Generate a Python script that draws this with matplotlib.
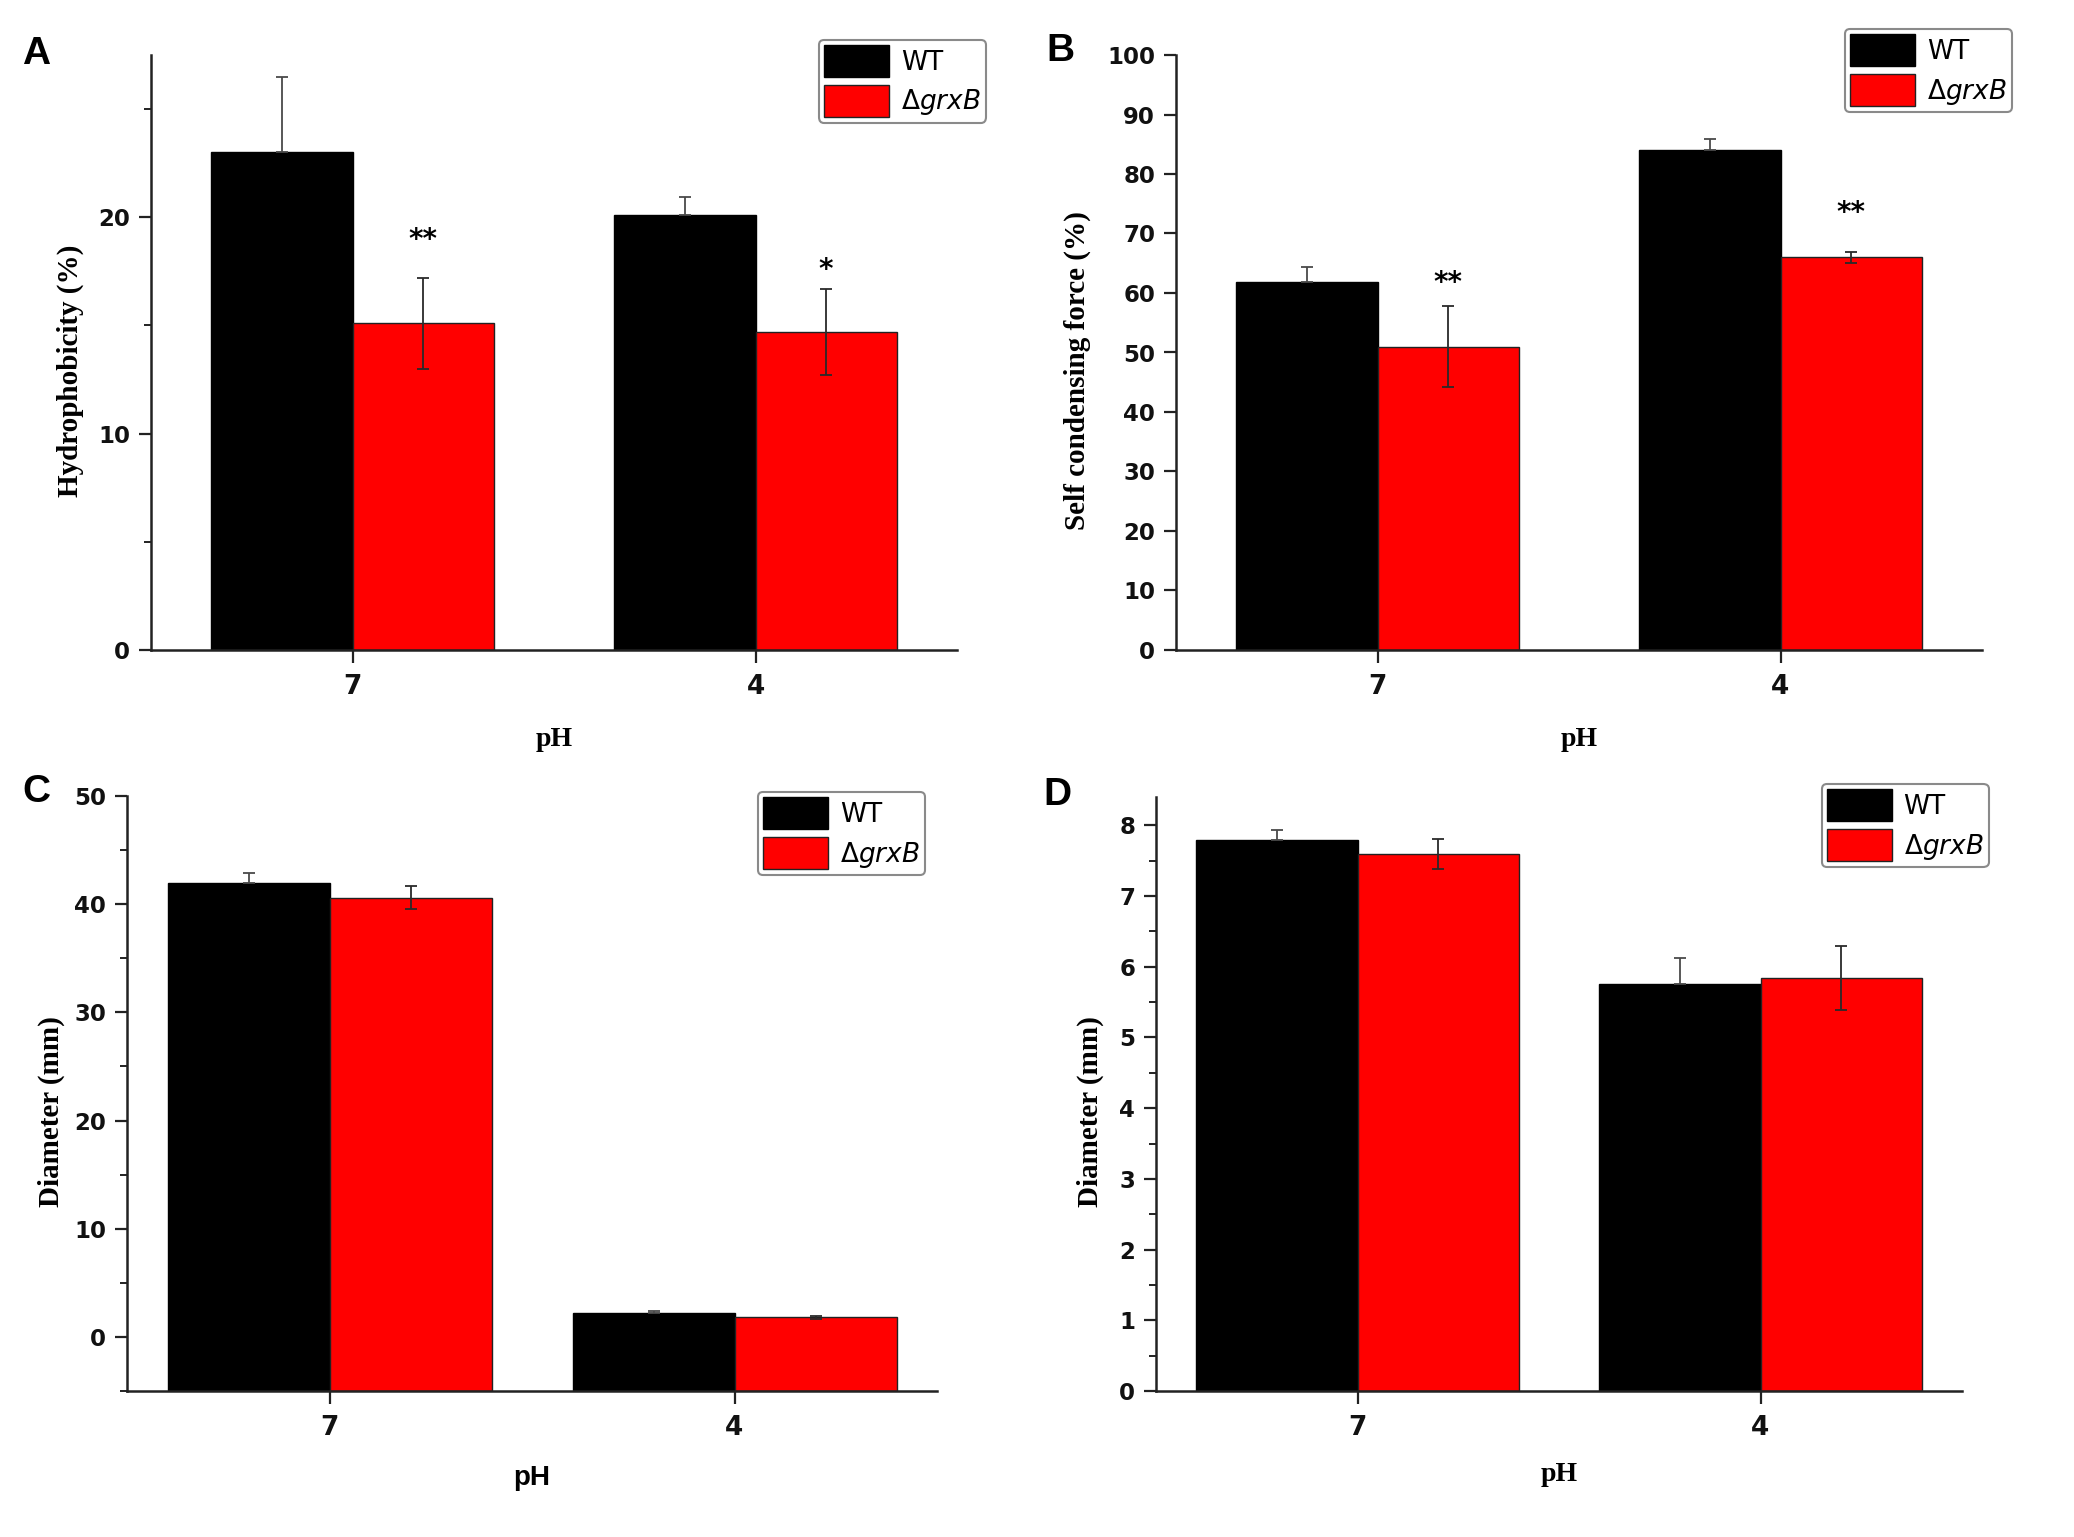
import numpy as np
import matplotlib
matplotlib.use("Agg")
import matplotlib.pyplot as plt
from matplotlib.ticker import MultipleLocator

plt.rcParams['mathtext.fontset'] = 'custom'
plt.rcParams['mathtext.rm'] = 'DejaVu Sans'
plt.rcParams['mathtext.it'] = 'DejaVu Sans:italic'

# data
categories = ['7', '4']

a_wt = [23.0, 20.1]
a_wt_err = [3.5, 0.85]
a_mut = [15.1, 14.7]
a_mut_err = [2.1, 2.0]
a_stars = ['**', '*']
a_star_y = [19.3, 17.9]

b_wt = [61.9, 84.1]
b_wt_err = [2.5, 1.7]
b_mut = [51.0, 66.0]
b_mut_err = [6.8, 0.9]
b_stars = ['**', '**']
b_star_y = [62.9, 74.7]

c_wt = [42.0, 2.2]
c_wt_err = [0.9, 0.2]
c_mut = [40.6, 1.8]
c_mut_err = [1.05, 0.13]

d_wt = [7.79, 5.76]
d_wt_err = [0.15, 0.36]
d_mut = [7.59, 5.84]
d_mut_err = [0.21, 0.45]

SERIF = 'Liberation Serif'
SANS = 'Liberation Sans'
TICKFONT = 'DejaVu Sans'


def draw_panel(ax, wt, wt_err, mut, mut_err, ylim, major, minor, width,
               ylabel, leg_anchor, xlab_font=SERIF, ylab_x=-0.1,
               xlab_y=-0.15, stars=None, star_y=None):
    x = np.arange(len(categories))
    ymin = ylim[0]
    wt = np.array(wt)
    mut = np.array(mut)
    # Origin-style: bars rise from the bottom of the axis
    b1 = ax.bar(x - width / 2, wt - ymin, width, bottom=ymin, color='black',
                edgecolor='black', linewidth=1, zorder=2)
    b2 = ax.bar(x + width / 2, mut - ymin, width, bottom=ymin, color='#ff0000',
                edgecolor='#222222', linewidth=1, zorder=2)
    # WT error bar only shows above the black bar
    ax.errorbar(x - width / 2, wt, yerr=[np.zeros(len(wt)), wt_err],
                fmt='none', ecolor='#4a4a4a', elinewidth=1.3, capsize=4.5,
                capthick=1.3, zorder=3)
    ax.errorbar(x + width / 2, mut, yerr=mut_err, fmt='none', ecolor='#2a2a2a',
                elinewidth=1.3, capsize=4.5, capthick=1.3, zorder=3)

    if stars is not None:
        for xi, s, sy in zip(x, stars, star_y):
            ax.annotate(s, xy=(xi + width / 2, sy), xytext=(0, -11),
                        textcoords='offset points', ha='center', va='baseline',
                        fontsize=20, fontweight='bold', family=TICKFONT)

    ax.set_xlim(-0.5, 1.5)
    ax.set_ylim(*ylim)
    ax.set_xticks(x)
    ax.set_xticklabels(categories)
    ax.yaxis.set_major_locator(MultipleLocator(major))
    if minor:
        ax.yaxis.set_minor_locator(MultipleLocator(minor))

    for side in ['top', 'right']:
        ax.spines[side].set_visible(False)
    for side in ['left', 'bottom']:
        ax.spines[side].set_linewidth(1.8)
        ax.spines[side].set_color('#222222')

    ax.tick_params(axis='both', which='major', direction='out', length=9,
                   width=1.6, color='#222222')
    ax.tick_params(axis='y', which='minor', direction='out', length=5,
                   width=1.4, color='#222222')
    ax.tick_params(axis='y', which='major', pad=6)
    ax.tick_params(axis='x', which='major', pad=8)
    for lab in ax.get_yticklabels():
        lab.set_fontfamily(TICKFONT)
        lab.set_fontweight('bold')
        lab.set_fontsize(16.5)
        lab.set_color('#111111')
    for lab in ax.get_xticklabels():
        lab.set_fontfamily(TICKFONT)
        lab.set_fontweight('bold')
        lab.set_fontsize(19)
        lab.set_color('#111111')

    ax.set_ylabel(ylabel, family=SERIF, fontweight='bold', fontsize=21,
                  va='center')
    ax.yaxis.set_label_coords(ylab_x, 0.47)
    ax.set_xlabel('pH', family=xlab_font, fontweight='bold', fontsize=20,
                  va='center')
    ax.xaxis.set_label_coords(0.5, xlab_y)

    leg = ax.legend([b1, b2], ['WT', '\u0394$\\mathit{grxB}$'],
                    loc='upper right', bbox_to_anchor=leg_anchor,
                    borderaxespad=0, prop=dict(family='DejaVu Sans', size=19),
                    handlelength=2.46, handleheight=1.49, handletextpad=0.45,
                    labelspacing=0.3, borderpad=0.2, fancybox=True,
                    framealpha=1, edgecolor='#8a8a8a')
    leg.get_frame().set_linewidth(1.5)


fig = plt.figure(figsize=(20.74, 15.37), dpi=100)
W, H = 2074, 1537


def add_axes(left, top, right, bottom):
    return fig.add_axes([left / W, 1 - bottom / H, (right - left) / W,
                         (bottom - top) / H])


axA = add_axes(151, 55, 957, 650)
axB = add_axes(1176, 55, 1982, 650)
axC = add_axes(127, 796, 937, 1391)
axD = add_axes(1156, 797, 1962, 1391)

draw_panel(axA, a_wt, a_wt_err, a_mut, a_mut_err, (0, 27.5), 10, 5, 0.35,
           'Hydrophobicity (%)', (1.036, 1.026), ylab_x=-0.1, xlab_y=-0.151,
           stars=a_stars, star_y=a_star_y)
draw_panel(axB, b_wt, b_wt_err, b_mut, b_mut_err, (0, 100), 10, None, 0.35,
           'Self condensing force (%)', (1.037, 1.044), ylab_x=-0.122,
           xlab_y=-0.15, stars=b_stars, star_y=b_star_y)
draw_panel(axC, c_wt, c_wt_err, c_mut, c_mut_err, (-5, 50), 10, 5, 0.4,
           'Diameter (mm)', (0.985, 1.007), xlab_font=SANS, ylab_x=-0.094,
           xlab_y=-0.146)
draw_panel(axD, d_wt, d_wt_err, d_mut, d_mut_err, (0, 8.4), 1, 0.5, 0.4,
           'Diameter (mm)', (1.033, 1.022), ylab_x=-0.081, xlab_y=-0.14)

# panel letters
for letter, px, py in [('A', 22, 64), ('B', 1046, 61), ('C', 22, 802),
                       ('D', 1043, 805)]:
    fig.text(px / W, 1 - py / H, letter, family=SANS, fontweight='bold',
             fontsize=28, ha='left', va='baseline')

fig.savefig('out.png', dpi=100, facecolor='white')
